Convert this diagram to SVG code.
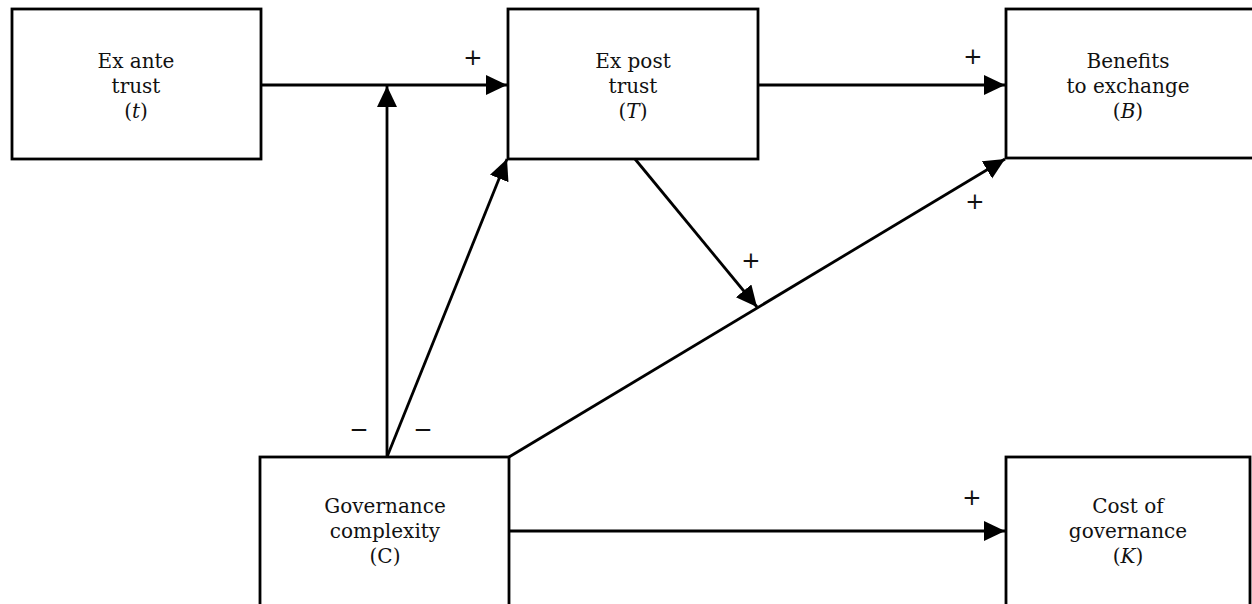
<svg xmlns="http://www.w3.org/2000/svg" width="1252" height="604" viewBox="0 0 1252 604">
<style>
.box{fill:#fff;stroke:#000;stroke-width:2.8}
.lbl{font-family:"DejaVu Serif","Liberation Serif",serif;font-size:20px;fill:#111;text-anchor:middle}
.sign{font-family:"DejaVu Sans","Liberation Sans",sans-serif;font-size:23px;fill:#111;text-anchor:middle}
.edge{stroke:#000;stroke-width:2.8;fill:none;marker-end:url(#ah)}
.it{font-style:italic}
</style>
<defs>
<marker id="ah" markerUnits="userSpaceOnUse" markerWidth="22" markerHeight="21" refX="21" refY="10" orient="auto" viewBox="0 0 22 21">
<path d="M0,0 L21,10 L0,20 z" fill="#000"/>
</marker>
</defs>
<rect width="1252" height="604" fill="#fff"/>
<g id="connectors">
<line class="edge" x1="261" y1="85" x2="507" y2="85"/>
<line class="edge" x1="387" y1="457" x2="387" y2="86"/>
<line class="edge" x1="387" y1="457" x2="507" y2="159"/>
<line class="edge" x1="758" y1="85" x2="1005" y2="85"/>
<line class="edge" x1="635" y1="159" x2="757" y2="307"/>
<line class="edge" x1="509" y1="457" x2="1005" y2="159"/>
<line class="edge" x1="509" y1="531" x2="1005" y2="531"/>
<text class="sign" x="473" y="65">+</text>
<text class="sign" x="973" y="64">+</text>
<text class="sign" x="751" y="268">+</text>
<text class="sign" x="975" y="209">+</text>
<text class="sign" x="972" y="505">+</text>
<text class="sign" x="359" y="437">−</text>
<text class="sign" x="423" y="437">−</text>
</g>
<g id="ex-ante">
<rect class="box" x="12" y="9" width="249" height="150"/>
<text class="lbl" x="136" y="68">Ex ante</text>
<text class="lbl" x="136" y="93">trust</text>
<text class="lbl" x="136" y="118">(<tspan class="it">t</tspan>)</text>
</g>
<g id="ex-post">
<rect class="box" x="508" y="9" width="250" height="150"/>
<text class="lbl" x="633" y="68">Ex post</text>
<text class="lbl" x="633" y="93">trust</text>
<text class="lbl" x="633" y="118">(<tspan class="it">T</tspan>)</text>
</g>
<g id="benefits">
<rect class="box" x="1006" y="9" width="260" height="149"/>
<text class="lbl" x="1128" y="68">Benefits</text>
<text class="lbl" x="1128" y="93">to exchange</text>
<text class="lbl" x="1128" y="118">(<tspan class="it">B</tspan>)</text>
</g>
<g id="governance">
<rect class="box" x="260" y="457" width="249" height="160"/>
<text class="lbl" x="385" y="513">Governance</text>
<text class="lbl" x="385" y="538">complexity</text>
<text class="lbl" x="385" y="563">(C)</text>
</g>
<g id="cost">
<rect class="box" x="1006" y="457" width="244" height="160"/>
<text class="lbl" x="1128" y="513">Cost of</text>
<text class="lbl" x="1128" y="538">governance</text>
<text class="lbl" x="1128" y="563">(<tspan class="it">K</tspan>)</text>
</g>
</svg>
